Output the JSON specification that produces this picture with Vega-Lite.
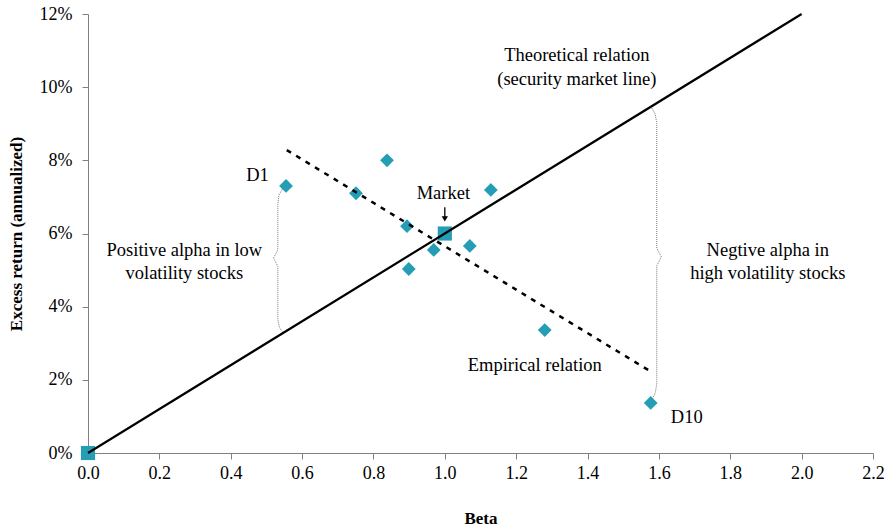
{
  "$schema": "https://vega.github.io/schema/vega-lite/v6.json",
  "width": 785,
  "height": 439,
  "autosize": {"type": "none"},
  "padding": {"left": 88, "top": 14, "right": 13, "bottom": 75},
  "background": "white",
  "config": {
    "view": {"stroke": null},
    "font": "Liberation Serif",
    "axis": {
      "grid": false,
      "domainColor": "#808080",
      "tickColor": "#808080",
      "labelColor": "black",
      "labelFont": "Liberation Serif",
      "labelFontSize": 18,
      "titleFont": "Liberation Serif",
      "titleFontSize": 17,
      "titleFontWeight": "bold",
      "titleColor": "black",
      "tickSize": 6
    },
    "text": {"font": "Liberation Serif", "fontSize": 18.5, "color": "black"}
  },
  "datasets": {
    "deciles": [
      {"portfolio": "D1", "beta": 0.555, "ret": 7.3},
      {"portfolio": "D2", "beta": 0.751, "ret": 7.1},
      {"portfolio": "D3", "beta": 0.838, "ret": 8.0},
      {"portfolio": "D4", "beta": 0.894, "ret": 6.2},
      {"portfolio": "D5", "beta": 0.899, "ret": 5.03},
      {"portfolio": "D6", "beta": 0.969, "ret": 5.55},
      {"portfolio": "D7", "beta": 1.07, "ret": 5.66},
      {"portfolio": "D8", "beta": 1.129, "ret": 7.19},
      {"portfolio": "D9", "beta": 1.28, "ret": 3.36},
      {"portfolio": "D10", "beta": 1.577, "ret": 1.37}
    ],
    "benchmarks": [
      {"name": "Risk-free", "beta": 0.0, "ret": 0.0},
      {"name": "Market", "beta": 1.0, "ret": 6.0}
    ],
    "sml": [
      {"beta": 0.0, "ret": 0.0},
      {"beta": 2.0, "ret": 12.0}
    ],
    "empirical": [
      {"beta": 0.557, "ret": 8.28},
      {"beta": 1.58, "ret": 2.21}
    ],
    "braces": [
      {"brace": "low", "i": 0, "beta": 0.545, "ret": 7.22},
      {"brace": "low", "i": 1, "beta": 0.535, "ret": 7.05},
      {"brace": "low", "i": 2, "beta": 0.532, "ret": 6.8},
      {"brace": "low", "i": 3, "beta": 0.532, "ret": 5.55},
      {"brace": "low", "i": 4, "beta": 0.52, "ret": 5.33},
      {"brace": "low", "i": 5, "beta": 0.532, "ret": 5.1},
      {"brace": "low", "i": 6, "beta": 0.532, "ret": 3.65},
      {"brace": "low", "i": 7, "beta": 0.537, "ret": 3.42},
      {"brace": "low", "i": 8, "beta": 0.547, "ret": 3.3},
      {"brace": "high", "i": 0, "beta": 1.58, "ret": 9.43},
      {"brace": "high", "i": 1, "beta": 1.59, "ret": 9.25},
      {"brace": "high", "i": 2, "beta": 1.594, "ret": 9.0},
      {"brace": "high", "i": 3, "beta": 1.594, "ret": 5.6},
      {"brace": "high", "i": 4, "beta": 1.607, "ret": 5.36},
      {"brace": "high", "i": 5, "beta": 1.594, "ret": 5.12},
      {"brace": "high", "i": 6, "beta": 1.594, "ret": 1.9},
      {"brace": "high", "i": 7, "beta": 1.59, "ret": 1.65},
      {"brace": "high", "i": 8, "beta": 1.58, "ret": 1.45}
    ],
    "arrow": [
      {"beta": 1.0, "top": 6.72, "tip": 6.4}
    ],
    "notes": [
      {"beta": 1.37, "ret": 10.87, "label": "Theoretical relation"},
      {"beta": 1.37, "ret": 10.23, "label": "(security market line)"},
      {"beta": 0.996, "ret": 7.1, "label": "Market"},
      {"beta": 0.475, "ret": 7.6, "label": "D1"},
      {"beta": 1.678, "ret": 0.98, "label": "D10"},
      {"beta": 0.27, "ret": 5.55, "label": "Positive alpha in low"},
      {"beta": 0.27, "ret": 4.93, "label": "volatility stocks"},
      {"beta": 1.905, "ret": 5.55, "label": "Negtive alpha in"},
      {"beta": 1.905, "ret": 4.93, "label": "high volatility stocks"},
      {"beta": 1.252, "ret": 2.4, "label": "Empirical relation"}
    ]
  },
  "encoding": {
    "x": {
      "field": "beta",
      "type": "quantitative",
      "title": "Beta",
      "scale": {"domain": [0, 2.2], "nice": false},
      "axis": {
        "values": [0, 0.2, 0.4, 0.6, 0.8, 1.0, 1.2, 1.4, 1.6, 1.8, 2.0, 2.2],
        "format": ".1f",
        "labelFlush": false,
        "labelPadding": 5,
        "titlePadding": 28
      }
    },
    "y": {
      "field": "ret",
      "type": "quantitative",
      "title": "Excess return (annualized)",
      "scale": {"domain": [0, 12], "nice": false},
      "axis": {
        "values": [0, 2, 4, 6, 8, 10, 12],
        "labelExpr": "datum.value + '%'",
        "labelFlush": false,
        "labelPadding": 10,
        "titlePadding": 14
      }
    }
  },
  "layer": [
    {
      "data": {"name": "deciles"},
      "mark": {"type": "point", "shape": "diamond", "filled": true, "size": 190, "color": "#259db4", "opacity": 1}
    },
    {
      "data": {"name": "benchmarks"},
      "mark": {"type": "point", "shape": "square", "filled": true, "size": 200, "color": "#259db4", "opacity": 1}
    },
    {
      "data": {"name": "sml"},
      "mark": {"type": "line", "color": "black", "strokeWidth": 2.2}
    },
    {
      "data": {"name": "empirical"},
      "mark": {"type": "line", "color": "black", "strokeWidth": 2.5, "strokeDash": [5, 6]}
    },
    {
      "data": {"name": "braces"},
      "mark": {"type": "line", "color": "#7a7a7a", "strokeWidth": 1, "strokeDash": [1, 1], "interpolate": "linear"},
      "encoding": {
        "detail": {"field": "brace"},
        "order": {"field": "i", "type": "quantitative"}
      }
    },
    {
      "data": {"name": "arrow"},
      "mark": {"type": "rule", "color": "black", "strokeWidth": 1.3},
      "encoding": {
        "y": {"field": "top", "type": "quantitative"},
        "y2": {"field": "tip"}
      }
    },
    {
      "data": {"name": "arrow"},
      "mark": {"type": "point", "shape": "triangle-down", "filled": true, "size": 40, "color": "black", "opacity": 1},
      "encoding": {
        "y": {"field": "tip", "type": "quantitative"}
      }
    },
    {
      "data": {"name": "notes"},
      "mark": {"type": "text", "align": "center", "baseline": "middle"},
      "encoding": {
        "text": {"field": "label"}
      }
    }
  ]
}
